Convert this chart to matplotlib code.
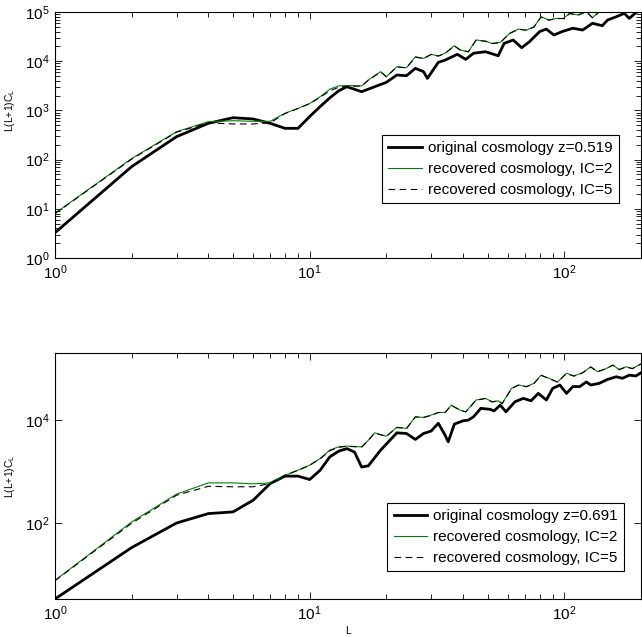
import matplotlib
matplotlib.use("Agg")
import matplotlib.pyplot as plt
from matplotlib.ticker import LogLocator, NullLocator, NullFormatter

plt.rcParams['font.family'] = ['Liberation Sans', 'DejaVu Sans']
plt.rcParams['mathtext.fontset'] = 'custom'
plt.rcParams['mathtext.rm'] = 'Liberation Sans'
plt.rcParams['mathtext.it'] = 'Liberation Sans:italic'

# top panel, z=0.519
L_top_orig = [1, 2, 3, 4, 5, 6, 7, 8, 9, 10, 11, 12, 13, 14, 16, 18, 20, 22, 24, 26, 28, 29,
              32, 34, 38, 41, 44, 49, 55, 58, 63, 68, 73, 80, 85, 91, 98, 108, 118, 129,
              141, 148, 160, 172, 180, 191, 200]
C_top_orig = [3.27, 72, 292, 546, 711, 669, 546, 432, 432, 750, 1200, 1800, 2500, 3030, 2400,
              3030, 3720, 5240, 5070, 7160, 6130, 4480, 9500, 10500, 13800, 10900, 14500,
              15600, 12900, 23000, 27000, 18800, 25000, 40000, 45000, 34000, 40000, 46800,
              43000, 59000, 52600, 69000, 80000, 94000, 74000, 98000, 105000]

L_top_rec = [1, 2, 3, 4, 5, 6, 7, 8, 9, 10, 11, 12, 13, 14, 16, 17, 19, 20, 22, 24, 26, 28,
             30, 32, 34, 37, 39, 42, 45, 49, 52, 56, 61, 66, 71, 76, 81, 87, 93, 99, 105,
             113, 122, 129, 137, 145, 152, 160, 167, 175, 185, 200]
C_top_ic2 = [8.1, 105, 369, 590, 617, 600, 600, 875, 1100, 1380, 1900, 2700, 3150, 3200, 3140,
             4170, 6130, 4850, 7720, 7370, 12300, 11400, 13800, 12800, 14500, 20700, 16900,
             15600, 27000, 25700, 23000, 24000, 37000, 45000, 43000, 50000, 80000, 69000,
             74000, 74000, 94000, 87000, 102000, 76800, 101000, 120000, 96000, 115000,
             98000, 125000, 110000, 130000]
C_top_ic5 = [8.0, 102, 360, 560, 530, 530, 560, 860, 1090, 1370, 1850, 2500, 2950, 3100, 3120,
             4100, 6050, 4800, 7650, 7300, 12100, 11300, 13700, 12700, 14400, 20400, 16800,
             15500, 26600, 25400, 22800, 23800, 36500, 44500, 42600, 49500, 79000, 68000,
             73500, 73500, 93000, 86000, 101000, 76000, 100000, 119000, 95000, 114000,
             97000, 124000, 109000, 129000]

# bottom panel, z=0.691
L_bot_orig = [1, 2, 3, 4, 5, 6, 7, 8, 9, 10, 11, 12, 13, 14, 15, 16, 17, 19, 22, 24, 26, 28,
              30, 32, 34, 35, 37, 40, 42, 44, 47, 51, 53, 56, 59, 64, 69, 74, 79, 85, 90,
              96, 102, 108, 115, 122, 127, 137, 148, 160, 169, 180, 191, 200]
C_bot_orig = [3.4, 33.8, 101, 154, 166, 280, 590, 820, 820, 705, 1070, 1940, 2500, 2800, 2400,
              1230, 1300, 2620, 5660, 5500, 4220, 5500, 6140, 8700, 5140, 3800, 8360, 9700,
              10000, 11600, 16900, 16200, 15100, 19500, 14500, 22700, 26400, 23700, 33000,
              24500, 41200, 47900, 33000, 44700, 44700, 55000, 47900, 51600, 61600, 69300,
              64600, 74400, 71700, 83000]

L_bot_rec = [1, 2, 3, 4, 5, 6, 7, 8, 9, 10, 11, 12, 13, 14, 16, 17, 18, 20, 22, 24, 26, 28,
             30, 32, 34, 36, 39, 41, 45, 49, 52, 55, 57, 62, 66, 71, 76, 81, 87, 94, 102,
             109, 118, 127, 135, 146, 155, 164, 175, 185, 200]
C_bot_ic2 = [7.8, 106, 366, 607, 607, 580, 607, 855, 1070, 1340, 1800, 2620, 3030, 3130, 3030,
             4080, 5660, 4870, 7250, 6900, 11600, 11300, 12500, 14100, 14100, 19500, 15600,
             14500, 24500, 26400, 22700, 23700, 21000, 41200, 47900, 44700, 51600, 74400,
             64600, 55000, 81000, 71700, 83000, 108000, 87000, 100000, 117000, 96000,
             108000, 100000, 123000]
C_bot_ic5 = [7.7, 100, 350, 520, 510, 510, 590, 850, 1060, 1330, 1780, 2550, 2980, 3100, 3010,
             4050, 5600, 4830, 7200, 6850, 11500, 11200, 12400, 14000, 14000, 19300, 15500,
             14400, 24300, 26200, 22500, 23500, 20800, 40800, 47500, 44300, 51200, 73800,
             64000, 54600, 80300, 71200, 82400, 107000, 86400, 99300, 116000, 95300,
             107000, 99300, 122000]

fig = plt.figure(figsize=(6.42, 6.37), dpi=100)
ax1 = fig.add_axes([55/642, 379/637, 586/642, 246/637])
ax2 = fig.add_axes([55/642, 38/637, 586/642, 246/637])

panels = [
    (ax1, L_top_orig, C_top_orig, L_top_rec, C_top_ic2, C_top_ic5, 'original cosmology z=0.519'),
    (ax2, L_bot_orig, C_bot_orig, L_bot_rec, C_bot_ic2, C_bot_ic5, 'original cosmology z=0.691'),
]

for ax, Lo, Co, Lr, C2, C5, lab in panels:
    ax.plot(Lo, Co, color='black', lw=2.0, label=lab)
    ax.plot(Lr, C2, color=(0, 0.5, 0), lw=0.8, label='recovered cosmology, IC=2')
    ax.plot(Lr, C5, color='black', lw=0.8, ls=(0, (6, 4)), label='recovered cosmology, IC=5')
    ax.set_xscale('log')
    ax.set_yscale('log')
    ax.set_xlim(1, 200)
    ax.xaxis.set_major_locator(LogLocator(base=10, numticks=10))
    ax.xaxis.set_minor_locator(LogLocator(base=10, subs=range(2, 10), numticks=20))
    ax.xaxis.set_minor_formatter(NullFormatter())
    ax.tick_params(which='both', direction='in', top=True, right=True, labelsize=11,
                   width=0.6, pad=4)
    ax.tick_params(which='major', length=5)
    ax.tick_params(which='minor', length=3.5)
    ax.set_ylabel('L(L+1)C$_\\mathregular{L}$', fontsize=7.5)
    for s in ax.spines.values():
        s.set_linewidth(0.8)
    leg = ax.legend(loc='upper right', fontsize=11, fancybox=False, framealpha=1,
                    edgecolor='black', handlelength=2.2, handletextpad=0.4,
                    labelspacing=0.45, borderpad=0.4, borderaxespad=0)
    leg.get_frame().set_linewidth(0.8)

ax1.set_ylim(1, 1e5)
ax1.yaxis.set_major_locator(LogLocator(base=10, numticks=10))
ax1.yaxis.set_minor_locator(LogLocator(base=10, subs=range(2, 10), numticks=20))
ax1.yaxis.set_minor_formatter(NullFormatter())
ax1.get_legend().set_bbox_to_anchor((0.962, 0.5), transform=ax1.transAxes)
ax1.yaxis.set_label_coords(-0.065, 0.6)

ax2.set_ylim(3.4, 2.0e5)
ax2.set_yticks([1e2, 1e4])
ax2.yaxis.set_minor_locator(NullLocator())
ax2.get_legend().set_bbox_to_anchor((0.971, 0.39), transform=ax2.transAxes)
ax2.yaxis.set_label_coords(-0.065, 0.5)
ax2.set_xlabel('L', fontsize=7.5, labelpad=2)

fig.savefig('out.png', dpi=100)
